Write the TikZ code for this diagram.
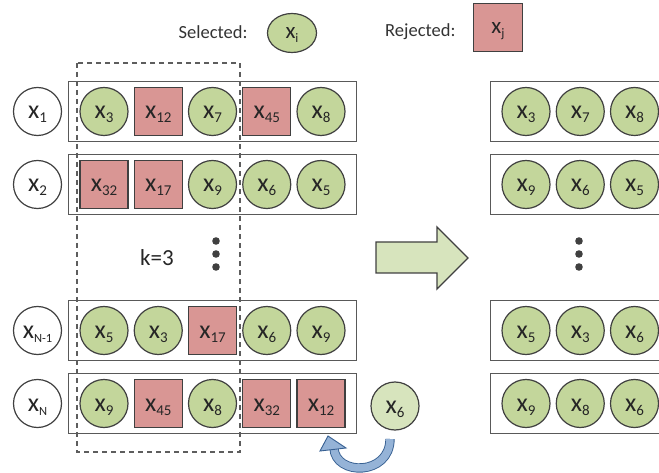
\documentclass[tikz,border=0pt]{standalone}
\usepackage{fontspec}
\setmainfont{Carlito}
\usepackage{tikz}
\usetikzlibrary{positioning,fit,shapes.geometric}

\definecolor{selgreen}{HTML}{C3D69B}
\definecolor{palegreen}{HTML}{D7E4BD}
\definecolor{rejred}{HTML}{D99694}
\definecolor{edgegray}{HTML}{404040}
\definecolor{boxgray}{HTML}{595959}
\definecolor{bendblue}{HTML}{95B3D7}
\definecolor{bendedge}{HTML}{376092}

\newcommand{\xs}[2][15]{x\raisebox{-4pt}{\fontsize{#1}{#1}\selectfont #2}}

\tikzset{
	sel/.style={circle,draw=edgegray,line width=1.2pt,fill=selgreen,minimum size=48pt,inner sep=0pt,text height=19pt,text depth=4pt,text=black!85,font=\fontsize{26}{26}\selectfont},
	rej/.style={rectangle,draw=edgegray,line width=1.2pt,fill=rejred,minimum width=48pt,minimum height=48pt,inner sep=0pt,text height=19pt,text depth=4pt,text=black!85,font=\fontsize{26}{26}\selectfont},
	lbl/.style={sel,fill=white},
	rowbox/.style={draw=boxgray,line width=1.3pt,inner xsep=11pt,inner ysep=5.5pt},
	kbox/.style={draw=edgegray!85,line width=1.3pt,dash pattern=on 5pt off 4pt},
	bigarrow/.style={draw=edgegray,line width=1.3pt,fill=palegreen},
	bendarrow/.style={draw=bendedge,line width=0.9pt,double=bendblue,double distance=7.5pt},
}

\begin{document}
\begin{tikzpicture}
		[x=1pt,y=-1pt,node distance=54.25pt,on grid]
		\useasboundingbox (0,0) rectangle (659,473);
		\clip (0,0) rectangle (659,473);
		% legend
		\node[anchor=east,font=\fontsize{18.5}{18.5}\selectfont,text=black!80] (seltxt) at (251,32) {Selected:};
		\node[sel,ellipse,minimum width=49pt,minimum height=39pt,text height=16pt,font=\fontsize{23}{23}\selectfont] (selkey) at (292,33) {\xs[13]{i}};
		\node[anchor=east,font=\fontsize{18.5}{18.5}\selectfont,text=black!80] (rejtxt) at (459,32) {Rejected:};
		\node[rej,minimum width=49pt,minimum height=48pt,text height=16pt,font=\fontsize{23}{23}\selectfont] (rejkey) at (498,27.5) {\xs[13]{j}};
		% row 1
		\node[lbl] (l1) at (37.5,111.5) {\xs{1}};
		\node[sel] (a1) at (104,111.5) {\xs{3}};
		\node[rej] (a2) [right=of a1] {\xs{12}};
		\node[sel] (a3) [right=of a2] {\xs{7}};
		\node[rej] (a4) [right=of a3] {\xs{45}};
		\node[sel] (a5) [right=of a4] {\xs{8}};
		\node[rowbox,fit=(a1)(a5)] (rowa) {};
		% row 2
		\node[lbl] (l2) at (37.5,184.5) {\xs{2}};
		\node[rej] (b1) at (104,184.5) {\xs{32}};
		\node[rej] (b2) [right=of b1] {\xs{17}};
		\node[sel] (b3) [right=of b2] {\xs{9}};
		\node[sel] (b4) [right=of b3] {\xs{6}};
		\node[sel] (b5) [right=of b4] {\xs{5}};
		\node[rowbox,fit=(b1)(b5)] (rowb) {};
		% row N-1
		\node[lbl] (l3) at (37.5,330.5) {\xs[12.5]{N-1}};
		\node[sel] (c1) at (104,330.5) {\xs{5}};
		\node[sel] (c2) [right=of c1] {\xs{3}};
		\node[rej] (c3) [right=of c2] {\xs{17}};
		\node[sel] (c4) [right=of c3] {\xs{6}};
		\node[sel] (c5) [right=of c4] {\xs{9}};
		\node[rowbox,fit=(c1)(c5)] (rowc) {};
		% row N
		\node[lbl] (l4) at (37.5,403.5) {\xs[12.5]{N}};
		\node[sel] (d1) at (104,403.5) {\xs{9}};
		\node[rej] (d2) [right=of d1] {\xs{45}};
		\node[sel] (d3) [right=of d2] {\xs{8}};
		\node[rej] (d4) [right=of d3] {\xs{32}};
		\node[rej] (d5) [right=of d4] {\xs{12}};
		\node[rowbox,fit=(d1)(d5)] (rowd) {};
		\node[sel,fill=palegreen] (extra) at (395,406) {\xs{6}};
		% k window
		\draw[kbox] (77,63) rectangle (240,452);
		\node[font=\fontsize{23}{23}\selectfont,text=black!85] (k) at (157,258) {k=3};
		\fill[edgegray] (216,241) circle (3.8pt) (216,254) circle (3.8pt) (216,267) circle (3.8pt);
		% swap arrow
		\coordinate (bendstart) at (390,439);
		\coordinate (bendend) at (334,448);
		\draw[bendarrow] (bendstart) .. controls (390,476) and (335,476) .. (bendend);
		\filldraw[fill=bendblue,draw=bendedge,line width=0.9pt] (320,451) -- (328,436) -- (346,448) -- cycle;
		% big arrow
		\draw[bigarrow] (376,242) -- (437,242) -- (437,227) -- (468,258) -- (437,289) -- (437,273) -- (376,273) -- cycle;
		% result rows
		\node[sel] (ra1) at (526,111.5) {\xs{3}};
		\node[sel] (ra2) [right=of ra1] {\xs{7}};
		\node[sel] (ra3) [right=of ra2] {\xs{8}};
		\node[rowbox,fit=(ra1)(ra3)] (resa) {};
		\node[sel] (rb1) at (526,184.5) {\xs{9}};
		\node[sel] (rb2) [right=of rb1] {\xs{6}};
		\node[sel] (rb3) [right=of rb2] {\xs{5}};
		\node[rowbox,fit=(rb1)(rb3)] (resb) {};
		\fill[edgegray] (579,241) circle (3.8pt) (579,254) circle (3.8pt) (579,267) circle (3.8pt);
		\node[sel] (rc1) at (526,330.5) {\xs{5}};
		\node[sel] (rc2) [right=of rc1] {\xs{3}};
		\node[sel] (rc3) [right=of rc2] {\xs{6}};
		\node[rowbox,fit=(rc1)(rc3)] (resc) {};
		\node[sel] (rd1) at (526,403.5) {\xs{9}};
		\node[sel] (rd2) [right=of rd1] {\xs{8}};
		\node[sel] (rd3) [right=of rd2] {\xs{6}};
		\node[rowbox,fit=(rd1)(rd3)] (resd) {};
\end{tikzpicture}
\end{document}
